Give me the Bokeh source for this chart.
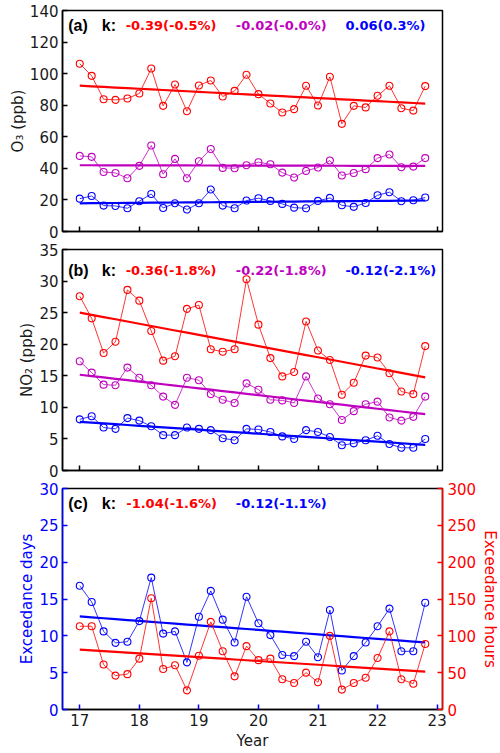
import numpy as np
from bokeh.plotting import figure
from bokeh.models import Range1d, LinearAxis, FixedTicker, Label
from bokeh.layouts import column
from bokeh.embed import file_html
from bokeh.resources import INLINE

# ---------------- data ----------------
years = [17.0, 17.2, 17.4, 17.6, 17.8, 18.0, 18.2, 18.4, 18.6, 18.8,
         19.0, 19.2, 19.4, 19.6, 19.8, 20.0, 20.2, 20.4, 20.6, 20.8,
         21.0, 21.2, 21.4, 21.6, 21.8, 22.0, 22.2, 22.4, 22.6, 22.8]
x_ticks = [17, 18, 19, 20, 21, 22, 23]

o3_red = [106.3, 98.6, 83.8, 83.4, 84.3, 87.4, 103.3, 79.6, 93.1, 76.2,
          92.5, 95.7, 85.5, 89.1, 99.3, 87.0, 81.1, 75.4, 77.5, 92.3,
          79.8, 98.0, 68.2, 79.6, 78.6, 86.0, 92.3, 78.1, 76.6, 92.1]
o3_mag = [47.9, 47.3, 37.7, 37.1, 33.7, 41.6, 54.5, 36.3, 46.0, 33.7,
          44.5, 52.3, 40.3, 40.1, 42.0, 43.9, 42.6, 37.3, 34.2, 38.4,
          40.5, 45.0, 35.5, 37.1, 39.5, 46.5, 48.8, 40.7, 41.1, 46.5]
o3_blue = [20.8, 22.5, 16.4, 16.2, 14.7, 19.2, 23.8, 14.9, 17.9, 13.9,
           17.9, 26.6, 16.4, 14.7, 19.6, 21.1, 19.4, 17.5, 15.1, 14.7,
           19.4, 21.3, 16.6, 15.6, 18.1, 23.0, 24.9, 19.2, 19.8, 21.5]

no2_red = [27.6, 24.1, 18.6, 20.4, 28.6, 26.9, 22.1, 17.4, 18.1, 25.6,
           26.2, 19.2, 18.8, 19.2, 30.3, 23.1, 17.8, 14.9, 15.6, 23.6,
           19.0, 17.5, 12.0, 13.9, 18.2, 17.9, 15.4, 12.5, 12.1, 19.7]
no2_mag = [17.3, 15.5, 13.6, 13.5, 16.3, 14.7, 13.5, 11.7, 10.4, 14.7,
           14.3, 12.1, 11.2, 10.7, 13.8, 12.8, 11.2, 11.1, 10.7, 14.9,
           11.4, 10.5, 8.0, 9.4, 10.5, 10.9, 8.4, 7.9, 8.5, 11.7]
no2_blue = [8.1, 8.6, 6.8, 6.6, 8.3, 7.9, 7.0, 5.6, 5.6, 6.8,
            6.6, 6.4, 5.1, 4.8, 6.6, 6.5, 6.1, 5.4, 5.0, 6.4,
            6.1, 5.3, 4.0, 4.3, 4.8, 5.5, 4.2, 3.6, 3.6, 5.0]

exc_days = [16.8, 14.6, 10.6, 9.05, 9.2, 12.0, 17.9, 10.3, 10.6, 6.4,
            12.6, 16.1, 12.2, 9.1, 15.3, 11.7, 10.1, 7.4, 7.25, 9.2,
            7.1, 13.5, 5.3, 7.25, 9.1, 11.3, 13.7, 7.9, 7.9, 14.5]
exc_hours = [113, 113, 61, 46, 48, 69, 151, 55, 60, 26,
             73, 119, 79, 45, 86, 67, 69, 41, 36, 50,
             37, 100, 27, 36, 43, 70, 106, 41, 35, 89]

k_text_a = ["-0.39(-0.5%)", "-0.02(-0.0%)", "0.06(0.3%)"]
k_text_b = ["-0.36(-1.8%)", "-0.22(-1.8%)", "-0.12(-2.1%)"]
k_text_c = ["-1.04(-1.6%)", "-0.12(-1.1%)"]

RED = "#ff0000"
MAG = "#bf00bf"
BLUE = "#0000ff"
FONT = "DejaVu Sans"

def fit(x, y):
    k, b = np.polyfit(np.array(x), np.array(y), 1)
    return list(k * np.array(x) + b)

def style_axis(ax):
    ax.major_tick_in = 5
    ax.major_tick_out = 0
    ax.minor_tick_line_color = None
    ax.axis_line_width = 1.5
    ax.major_tick_line_width = 1.5
    ax.major_label_text_font = FONT
    ax.major_label_text_font_size = "15px"
    ax.major_label_text_color = "#1a1a1a"
    ax.axis_label_text_font = FONT
    ax.axis_label_text_font_size = "15px"
    ax.axis_label_text_font_style = "normal"
    ax.axis_label_text_color = "#1a1a1a"
    ax.major_label_standoff = 4
    ax.axis_label_standoff = 3

def make_fig(ymax, ystep, top, bottom, last=False):
    p = figure(frame_width=380, frame_height=221, title=None,
               x_range=Range1d(16.71, 23.09), y_range=Range1d(0, ymax),
               output_backend="svg", toolbar_location=None,
               min_border_left=62, min_border_right=58,
               min_border_top=top, min_border_bottom=bottom)
    p.xgrid.visible = False
    p.ygrid.visible = False
    p.outline_line_color = "black"
    p.outline_line_width = 1.5
    p.xaxis.ticker = FixedTicker(ticks=x_ticks)
    p.yaxis.ticker = FixedTicker(ticks=list(np.arange(0, ymax + 0.001, ystep)))
    for ax in p.xaxis + p.yaxis:
        style_axis(ax)
    p.yaxis.axis_label_standoff = 0
    if not last:
        p.xaxis.major_label_text_color = None
        p.xaxis.major_label_text_font_size = "0px"
        p.xaxis.major_label_standoff = 0
    return p

def series(p, y, color, y_range_name="default"):
    p.line(years, y, line_color=color, line_width=0.8, y_range_name=y_range_name)
    p.scatter(years, y, marker="circle", size=7, fill_color=None,
              line_color=color, line_width=1.1, y_range_name=y_range_name)
    p.line(years, fit(years, y), line_color=color, line_width=2.2,
           y_range_name=y_range_name)

def labels(p, tag, texts, colors, xs, y):
    p.add_layout(Label(x=16.805, y=y, text=tag, text_font="Liberation Sans",
                       text_font_style="bold", text_font_size="16px",
                       text_color="black", text_baseline="middle"))
    p.add_layout(Label(x=17.37, y=y, text="k:", text_font="Liberation Sans",
                       text_font_style="bold", text_font_size="16px",
                       text_color="black", text_baseline="middle"))
    for t, c, xx in zip(texts, colors, xs):
        p.add_layout(Label(x=xx, y=y, text=t, text_font=FONT,
                           text_font_style="bold", text_font_size="13px",
                           text_color=c, text_baseline="middle"))

# ---------------- panel (a) ----------------
pa = make_fig(140, 20, 10, 9)
pa.yaxis.axis_label = "O\u2083 (ppb)"
series(pa, o3_red, RED)
series(pa, o3_mag, MAG)
series(pa, o3_blue, BLUE)
labels(pa, "(a)", k_text_a, [RED, MAG, BLUE], [17.77, 19.62, 21.46], 130.5)

# ---------------- panel (b) ----------------
pb = make_fig(35, 5, 9, 9)
pb.yaxis.axis_label = "NO\u2082 (ppb)"
series(pb, no2_red, RED)
series(pb, no2_mag, MAG)
series(pb, no2_blue, BLUE)
labels(pb, "(b)", k_text_b, [RED, MAG, BLUE], [17.77, 19.62, 21.46], 31.7)

# ---------------- panel (c) ----------------
pc = make_fig(30, 5, 9, 44, last=True)
pc.xaxis.axis_label = "Year"
pc.xaxis.major_tick_line_color = BLUE
ly = pc.yaxis[0]
ly.axis_label = "Exceedance days"
ly.axis_line_color = BLUE
ly.major_tick_line_color = BLUE
ly.major_label_text_color = BLUE
ly.axis_label_text_color = BLUE
pc.extra_y_ranges = {"hours": Range1d(0, 300)}
ry = LinearAxis(y_range_name="hours", ticker=FixedTicker(ticks=[0, 50, 100, 150, 200, 250, 300]),
                axis_label="Exceedance hours")
style_axis(ry)
ry.axis_line_color = RED
ry.major_tick_line_color = RED
ry.major_label_text_color = RED
ry.axis_label_text_color = RED
ry.major_label_standoff = 5
ry.axis_label_standoff = 2
pc.add_layout(ry, "right")
series(pc, exc_days, BLUE)
series(pc, exc_hours, RED, y_range_name="hours")
labels(pc, "(c)", k_text_c, [RED, BLUE], [17.78, 19.62], 27.9)

layout = column(pa, pb, pc, spacing=0)
open("out.html", "w").write(file_html(layout, INLINE))
